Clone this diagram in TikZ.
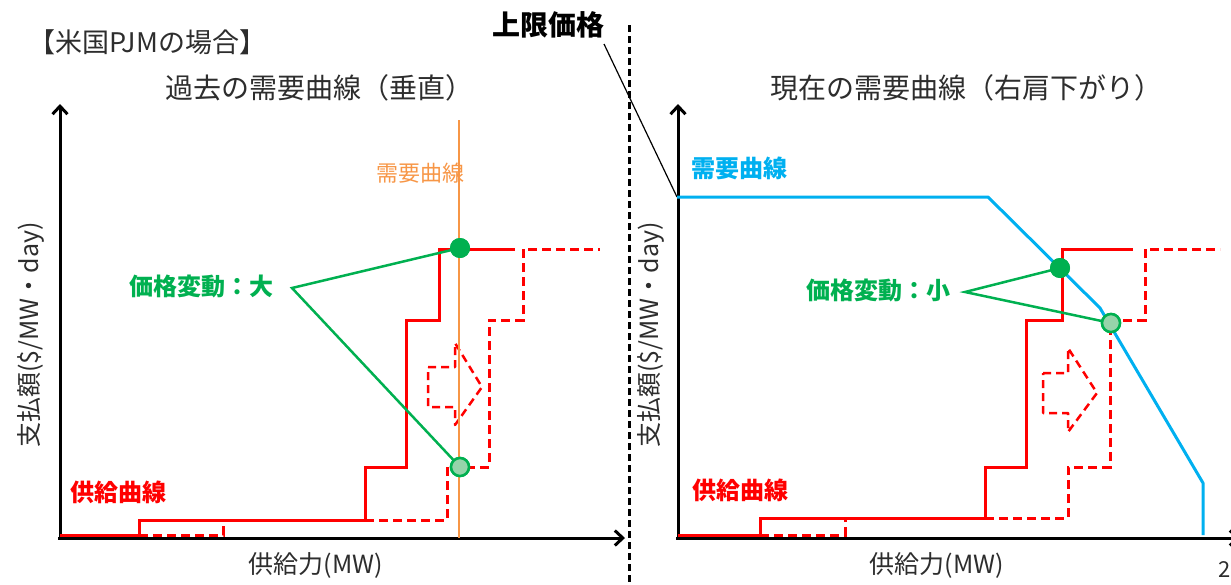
\documentclass[tikz,border=0pt]{standalone}
\usepackage{fontspec}
\setmainfont{Noto Sans CJK JP}
\usetikzlibrary{arrows.meta}
\definecolor{pred}{RGB}{255,0,0}
\definecolor{pgreen}{RGB}{0,176,80}
\definecolor{porange}{RGB}{247,150,70}
\definecolor{pblue}{RGB}{0,176,240}
\definecolor{ptext}{RGB}{45,45,45}
\definecolor{plight}{RGB}{150,212,170}
\begin{document}
\begin{tikzpicture}[x=1pt,y=-1pt,
  axisline/.style={line width=3pt,-{Straight Barb[length=8pt,width=15pt]}},
  supply/.style={pred,line width=3pt},
  shifted/.style={pred,line width=3pt,dash pattern=on 9pt off 5pt},
  gline/.style={pgreen,line width=2.5pt},
  fdot/.style={circle,fill=pgreen,minimum size=20pt,inner sep=0pt},
  hdot/.style={circle,draw=pgreen,line width=2.5pt,fill=plight,minimum size=18pt,inner sep=0pt},
  ttl/.style={text=ptext,font=\fontsize{28}{30}\selectfont,inner sep=0pt},
  axlab/.style={text=ptext,font=\fontsize{25}{27}\selectfont,inner sep=0pt},
  clab/.style={font=\bfseries\fontsize{24}{26}\selectfont,inner sep=0pt},
  blockarrow/.style={pred,line width=2.5pt,dash pattern=on 8pt off 5pt,line join=round}
]
\useasboundingbox (0,0) rectangle (1231,584);

% ---------- separator and cap label ----------
\draw[line width=3pt,dash pattern=on 7pt off 4pt] (629,25) -- (629,590);
\node[font=\bfseries\fontsize{28}{30}\selectfont,inner sep=0pt] (cap) at (548,25) {上限価格};
\coordinate (capstart) at (604,44);
\coordinate (capend) at (677,197);
\draw[line width=1.2pt] (capstart) -- (capend);

% ---------- left chart ----------
\node[text=ptext,inner sep=0pt,anchor=west,font=\fontsize{27}{29}\selectfont] (pjm) at (28,42) {【米国PJMの場合】};
\node[ttl] (t1) at (319,88) {過去の需要曲線（垂直）};
\coordinate (o1) at (60,538);
\draw[axisline] (o1) -- (60,104);
\draw[axisline] (58,538) -- (625,538);
\node[axlab,rotate=90] (y1) at (31,335) {支払額(\$/MW・day)};
\node[axlab] (x1) at (316,565) {供給力(MW)};
\node[clab,text=pred] (s1) at (118,492) {供給曲線};
\node[clab,text=pgreen] (p1) at (201,286) {価格変動：大};
\node[font=\fontsize{22}{24}\selectfont,inner sep=0pt,text=porange] (d1) at (420,173) {需要曲線};

\draw[supply] (60,535) -- (139,535) -- (139,520) -- (365,520) -- (365,467) -- (406,467)
  -- (406,320) -- (439,320) -- (439,249) -- (515,249);
\draw[shifted] (139,535) -- (223,535) -- (223,520);
\draw[shifted] (365,520) -- (447,520) -- (447,467) -- (489,467) -- (489,320) -- (523,320)
  -- (523,249) -- (600,249);
\draw[blockarrow] (428,367) -- (455,367) -- (455,343) -- (482,387) -- (455,425) -- (455,407)
  -- (428,407) -- cycle;
\draw[porange,line width=2pt] (459,120) -- (459,538);

\coordinate (a1) at (292,288);
\node[fdot] (hi1) at (460,248) {};
\node[hdot] (lo1) at (460,467) {};
\draw[gline] (hi1.center) -- (a1) -- (lo1.center);
\node[fdot] at (hi1) {};
\node[hdot] at (lo1) {};

% ---------- right chart ----------
\node[ttl] (t2) at (966,88) {現在の需要曲線（右肩下がり）};
\draw[axisline] (678,538) -- (678,104);
\draw[axisline] (676,538) -- (1240,538);
\node[axlab,rotate=90] (y2) at (651,335) {支払額(\$/MW・day)};
\node[axlab] (x2) at (937,565) {供給力(MW)};
\node[clab,text=pred] (s2) at (740,490) {供給曲線};
\node[clab,text=pgreen] (p2) at (878,290) {価格変動：小};
\node[clab,text=pblue] (d2) at (739,168) {需要曲線};

\draw[supply] (678,535) -- (760,535) -- (760,518) -- (985,518) -- (985,467) -- (1026,467)
  -- (1026,320) -- (1062,320) -- (1062,249) -- (1133,249);
\draw[shifted] (760,535) -- (845,535) -- (845,518);
\draw[shifted] (985,518) -- (1068,518) -- (1068,467) -- (1110,467) -- (1110,320) -- (1145,320)
  -- (1145,249) -- (1220,249);
\draw[blockarrow] (1043,373) -- (1068,373) -- (1068,348) -- (1097,393) -- (1068,432) -- (1068,413)
  -- (1043,413) -- cycle;
\draw[pblue,line width=3pt,line join=round] (capend) -- (988,197) -- (1100,308) -- (1203,483) -- (1203,535);

\coordinate (a2) at (965,292);
\node[fdot] (hi2) at (1060,268) {};
\node[hdot] (lo2) at (1111,323) {};
\draw[gline] (hi2.center) -- (a2) -- (lo2.center);
\node[fdot] at (hi2) {};
\node[hdot] at (lo2) {};

\node[axlab,anchor=east,font=\fontsize{22}{24}\selectfont] (pg) at (1231,570) {2};
\end{tikzpicture}
\end{document}
